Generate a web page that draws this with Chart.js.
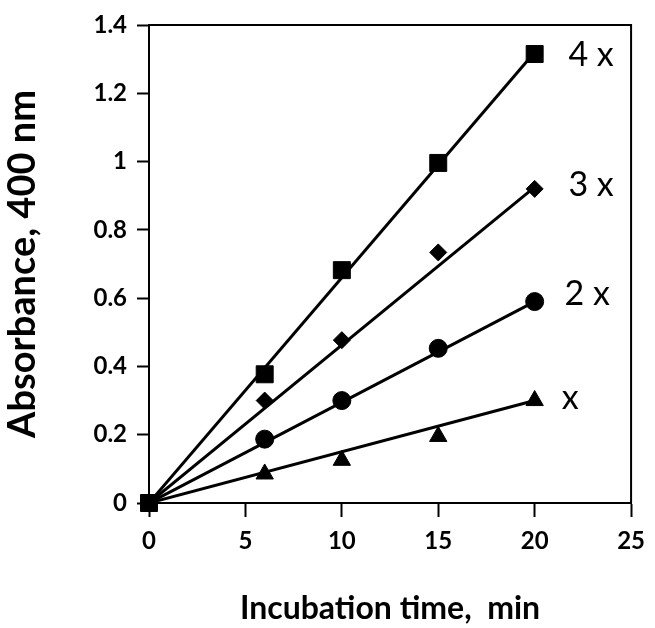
<!DOCTYPE html>
<html>
<head>
<meta charset="utf-8">
<script src="https://cdn.jsdelivr.net/npm/chart.js@4"></script>
<style>
html, body { margin: 0; padding: 0; background: #fff; }
</style>
</head>
<body>
<canvas id="chart" width="655" height="628"></canvas>
<script>
// incubation time (min) and absorbance at 400 nm
const times = [0, 6, 10, 15, 20];
const abs1x = [0, 0.085, 0.125, 0.195, 0.30];
const abs2x = [0, 0.187, 0.30, 0.453, 0.59];
const abs3x = [0, 0.30, 0.477, 0.734, 0.92];
const abs4x = [0, 0.377, 0.682, 0.996, 1.315];

// fitted straight lines (start and end of each)
const fitTimes = [0, 20];
const fit1x = [0, 0.30];
const fit2x = [0, 0.59];
const fit3x = [0, 0.925];
const fit4x = [0, 1.32];

const seriesLabels = ["4 x", "3 x", "2 x", "x"];
const xTicks = [0, 5, 10, 15, 20, 25];
const yTicks = [0, 0.2, 0.4, 0.6, 0.8, 1, 1.2, 1.4];

function pts(xs, ys) {
    return xs.map((x, i) => ({ x: x, y: ys[i] }));
}

// hide the origin marker for all but the squares, they sit on top of each other
function originHidden(r) {
    return (ctx) => (ctx.dataIndex === 0 ? 0 : r);
}

var seriesText = {
    id: "seriesText",
    afterDatasetsDraw(chart, args, opts) {
        const c = chart.ctx;
        c.save();
        c.fillStyle = "#000";
        c.font = "34px Lato";
        c.textBaseline = "middle";
        c.textAlign = "left";
        opts.items.forEach((it) => {
            const meta = chart.getDatasetMeta(it.dataset);
            const last = meta.data[meta.data.length - 1];
            c.fillText(it.text, chart.scales.x.getPixelForValue(it.at), last.y + it.dy);
        });
        c.restore();
    }
};

var frame = {
    id: "frame",
    afterDraw(chart) {
        const a = chart.chartArea;
        const c = chart.ctx;
        c.save();
        c.strokeStyle = "#000";
        c.lineWidth = 2;
        c.beginPath();
        c.moveTo(a.left, a.top);
        c.lineTo(a.right, a.top);
        c.lineTo(a.right, a.bottom);
        c.stroke();
        c.restore();
    }
};

var fitStyle = {
    showLine: true,
    borderColor: "#000",
    borderWidth: 3,
    pointRadius: 0,
    pointHoverRadius: 0,
    fill: false
};

var markStyle = {
    showLine: false,
    clip: false,
    backgroundColor: "#000",
    borderColor: "#000",
    borderWidth: 1
};

var tickFont = { family: "Lato", size: 24, weight: "bold" };

var ctx = document.getElementById("chart").getContext("2d");
var chart = new Chart(ctx, {
    type: "scatter",
    data: {
        datasets: [
            Object.assign({ label: seriesLabels[0], data: pts(times, abs4x), pointStyle: "rect", pointRadius: 12 }, markStyle),
            Object.assign({ label: seriesLabels[1], data: pts(times, abs3x), pointStyle: "rectRot", pointRadius: originHidden(8.5) }, markStyle),
            Object.assign({ label: seriesLabels[2], data: pts(times, abs2x), pointStyle: "circle", pointRadius: originHidden(9) }, markStyle),
            Object.assign({ label: seriesLabels[3], data: pts(times, abs1x), pointStyle: "triangle", pointRadius: originHidden(10) }, markStyle),
            Object.assign({ label: "fit 4x", data: pts(fitTimes, fit4x) }, fitStyle),
            Object.assign({ label: "fit 3x", data: pts(fitTimes, fit3x) }, fitStyle),
            Object.assign({ label: "fit 2x", data: pts(fitTimes, fit2x) }, fitStyle),
            Object.assign({ label: "fit x", data: pts(fitTimes, fit1x) }, fitStyle)
        ]
    },
    options: {
        responsive: false,
        animation: false,
        events: [],
        layout: { padding: { left: 0, top: 25, right: 15, bottom: 0 } },
        plugins: {
            legend: { display: false },
            tooltip: { enabled: false },
            seriesText: {
                items: [
                    { dataset: 0, text: seriesLabels[0], at: 21.75, dy: 1 },
                    { dataset: 1, text: seriesLabels[1], at: 21.75, dy: -4 },
                    { dataset: 2, text: seriesLabels[2], at: 21.55, dy: -8 },
                    { dataset: 3, text: seriesLabels[3], at: 21.4, dy: -3 }
                ]
            }
        },
        scales: {
            x: {
                type: "linear",
                min: 0,
                max: 25,
                afterBuildTicks: (s) => { s.ticks = xTicks.map((v) => ({ value: v })); },
                afterFit: (s) => { s.height = 125; },
                border: { color: "#000", width: 2 },
                grid: { drawOnChartArea: false, drawTicks: true, tickLength: 14, tickWidth: 2, tickColor: "#000" },
                ticks: { color: "#000", padding: 10, font: tickFont, callback: (v) => String(v) },
                title: {
                    display: true,
                    text: "Incubation time,  min",
                    color: "#000",
                    padding: { top: 0, bottom: 0 },
                    font: { family: "Lato", size: 32, weight: "bold" }
                }
            },
            y: {
                type: "linear",
                min: 0,
                max: 1.4,
                afterBuildTicks: (s) => { s.ticks = yTicks.map((v) => ({ value: v })); },
                afterFit: (s) => { s.width = 149; },
                border: { color: "#000", width: 2 },
                grid: { drawOnChartArea: false, drawTicks: true, tickLength: 12, tickWidth: 2, tickColor: "#000" },
                ticks: { color: "#000", padding: 10, font: tickFont, callback: (v) => String(Math.round(v * 10) / 10) },
                title: {
                    display: true,
                    text: "Absorbance, 400 nm",
                    color: "#000",
                    padding: { top: 0, bottom: 0 },
                    font: { family: "Lato", size: 38, weight: "bold" }
                }
            }
        }
    },
    plugins: [seriesText, frame]
});
</script>
</body>
</html>
